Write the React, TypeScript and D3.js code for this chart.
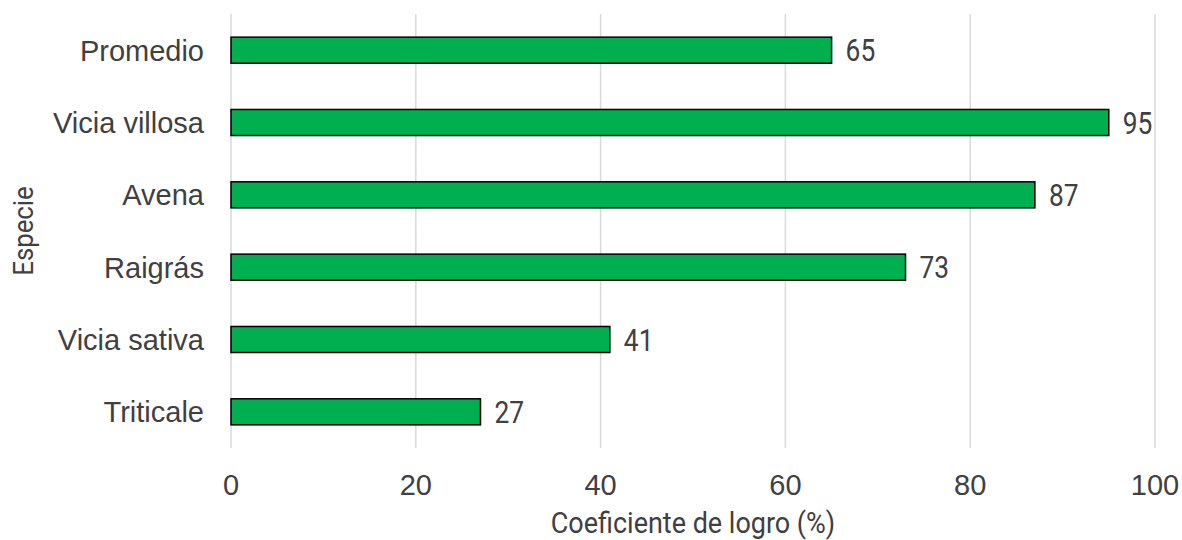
import React, { useRef, useEffect } from 'react';
import * as d3 from 'd3';

// Chart data
const categories = ['Promedio', 'Vicia villosa', 'Avena', 'Raigrás', 'Vicia sativa', 'Triticale'];
const values = [65, 95, 87, 73, 41, 27];
const xTicks = [0, 20, 40, 60, 80, 100];

const width = 1182;
const height = 540;

const App = () => {
  const chartRef = useRef<HTMLDivElement>(null);

  useEffect(() => {
    const margin = { top: 14, right: 27, bottom: 92, left: 231 };
    const chartWidth = width - margin.left - margin.right;
    const chartHeight = height - margin.top - margin.bottom;
    const textColor = '#404040';

    d3.select(chartRef.current).selectAll('*').remove();

    const root = d3.select(chartRef.current)
      .append('svg')
      .attr('width', width)
      .attr('height', height)
      .style('display', 'block');

    const svg = root.append('g')
      .attr('transform', `translate(${margin.left},${margin.top})`);

    const x = d3.scaleLinear().domain([0, 100]).range([0, chartWidth]);
    const y = d3.scaleBand().domain(categories).range([0, chartHeight]).paddingInner(0.64).paddingOuter(0.32);

    // vertical gridlines
    svg.selectAll('.grid')
      .data(xTicks)
      .enter()
      .append('line')
      .attr('x1', d => x(d))
      .attr('x2', d => x(d))
      .attr('y1', 0)
      .attr('y2', chartHeight)
      .attr('stroke', '#d9d9d9')
      .attr('stroke-width', 1.5);

    // x tick labels
    svg.selectAll('.xtick')
      .data(xTicks)
      .enter()
      .append('text')
      .attr('x', d => x(d))
      .attr('y', chartHeight + 47)
      .attr('text-anchor', 'middle')
      .attr('font-family', 'Liberation Sans, Arial, sans-serif')
      .attr('font-size', 29)
      .attr('fill', textColor)
      .text(d => d);

    // category labels
    svg.selectAll('.ytick')
      .data(categories)
      .enter()
      .append('text')
      .attr('x', -27)
      .attr('y', d => (y(d) ?? 0) + y.bandwidth() / 2)
      .attr('dy', '0.36em')
      .attr('text-anchor', 'end')
      .attr('font-family', 'Liberation Sans, Arial, sans-serif')
      .attr('font-size', 29)
      .attr('fill', textColor)
      .text(d => d);

    // bars
    svg.selectAll('.bar')
      .data(values)
      .enter()
      .append('rect')
      .attr('x', x(0))
      .attr('y', (d, i) => y(categories[i]) ?? 0)
      .attr('width', d => x(d) - x(0))
      .attr('height', y.bandwidth())
      .attr('fill', '#00B050')
      .attr('stroke', '#000')
      .attr('stroke-width', 1.5);

    // value labels (condensed look)
    svg.selectAll('.val')
      .data(values)
      .enter()
      .append('g')
      .attr('transform', (d, i) => `translate(${x(d) + 14},${(y(categories[i]) ?? 0) + y.bandwidth() / 2}) scale(0.85,1)`)
      .append('text')
      .attr('dy', '0.36em')
      .attr('font-family', 'Roboto, sans-serif')
      .attr('font-size', 31)
      .attr('fill', textColor)
      .text(d => d);

    // x axis title
    root.append('g')
      .attr('transform', `translate(${margin.left + chartWidth / 2},${height - 7}) scale(0.93,1)`)
      .append('text')
      .attr('text-anchor', 'middle')
      .attr('font-family', 'Roboto, sans-serif')
      .attr('font-size', 29)
      .attr('fill', textColor)
      .text('Coeficiente de logro (%)');

    // y axis title
    root.append('g')
      .attr('transform', `translate(33,${margin.top + chartHeight / 2}) rotate(-90) scale(0.92,1)`)
      .append('text')
      .attr('text-anchor', 'middle')
      .attr('font-family', 'Roboto, sans-serif')
      .attr('font-size', 28)
      .attr('fill', textColor)
      .text('Especie');
  }, []);

  return (
    <div ref={chartRef} style={{ position: 'fixed', left: 0, top: 0, width, height, background: '#fff' }}></div>
  );
};

export default App;
